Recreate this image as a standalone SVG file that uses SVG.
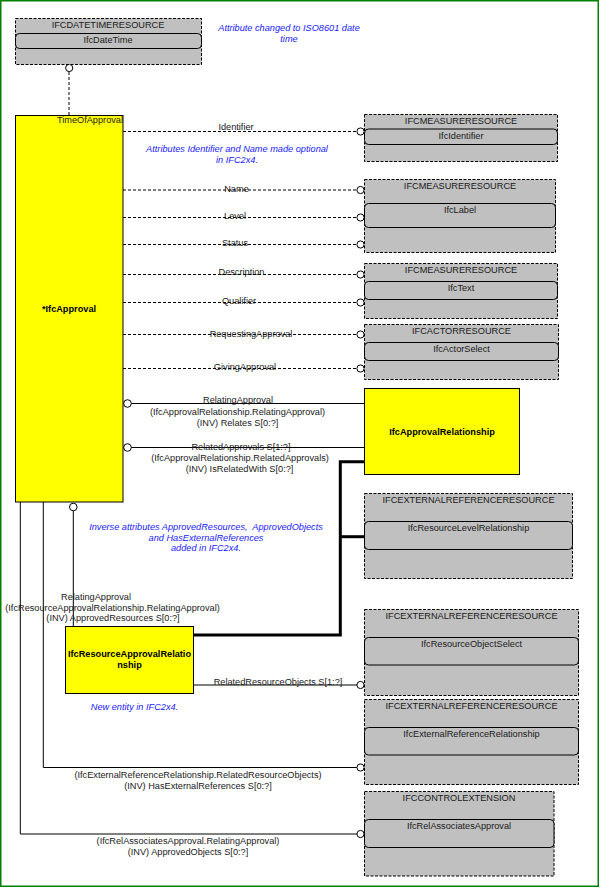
<svg xmlns="http://www.w3.org/2000/svg" width="600" height="888" viewBox="0 0 600 888">
<style>
text{font-family:"Liberation Sans",Arial,sans-serif;font-size:9.2px;fill:#1a1a1a;text-anchor:middle}
.b{font-weight:bold;fill:#000}
.n{font-style:italic;fill:#1a1aff}
.box{fill:#c0c0c0;stroke:#000;stroke-width:1;stroke-dasharray:3,1.5}
.in{fill:#c0c0c0;stroke:#000;stroke-width:1}
.ent{fill:#ffff00;stroke:#000;stroke-width:1}
.dl{fill:none;stroke:#000;stroke-width:1;stroke-dasharray:3,2}
.sl{fill:none;stroke:#000;stroke-width:1}
.tk{fill:none;stroke:#000;stroke-width:3}
.c{fill:#fff;stroke:#000;stroke-width:1}
</style>
<rect x="0.75" y="0.75" width="597.5" height="885.5" fill="#fff" stroke="#008000" stroke-width="1.5"/>

<g id="connectors">
  <line class="dl" x1="69" y1="72" x2="69" y2="115"/>
  <line class="dl" x1="123" y1="131.5" x2="357" y2="131.5"/>
  <line class="dl" x1="123" y1="190" x2="357" y2="190"/>
  <line class="dl" x1="123" y1="217.5" x2="357" y2="217.5"/>
  <line class="dl" x1="123" y1="244.5" x2="357" y2="244.5"/>
  <line class="dl" x1="123" y1="274.5" x2="357" y2="274.5"/>
  <line class="dl" x1="123" y1="302.5" x2="357" y2="302.5"/>
  <line class="dl" x1="123" y1="334.5" x2="357" y2="334.5"/>
  <line class="dl" x1="123" y1="368.5" x2="357" y2="368.5"/>
  <line class="sl" x1="131" y1="403.5" x2="364" y2="403.5"/>
  <line class="sl" x1="131" y1="447.5" x2="364" y2="447.5"/>
  <path class="tk" d="M364,461.7 H340.3 V635 H193.6"/>
  <path class="tk" d="M340.3,536.7 H364"/>
  <line class="sl" x1="73.3" y1="511" x2="73.3" y2="626"/>
  <line class="sl" x1="193.6" y1="685" x2="357" y2="685"/>
  <path class="sl" d="M43.3,502 V767.5 H357"/>
  <path class="sl" d="M20.3,502 V834 H357"/>
  <circle class="c" cx="69.2" cy="68" r="3.6"/>
  <circle class="c" cx="360.5" cy="131.5" r="3.6"/>
  <circle class="c" cx="360.5" cy="190" r="3.6"/>
  <circle class="c" cx="360.5" cy="217.5" r="3.6"/>
  <circle class="c" cx="360.5" cy="244.5" r="3.6"/>
  <circle class="c" cx="360.5" cy="274.5" r="3.6"/>
  <circle class="c" cx="360.5" cy="302.5" r="3.6"/>
  <circle class="c" cx="360.5" cy="334.5" r="3.6"/>
  <circle class="c" cx="360.5" cy="368.5" r="3.6"/>
  <circle class="c" cx="127.5" cy="403.5" r="3.8"/>
  <circle class="c" cx="127.5" cy="447.5" r="3.8"/>
  <circle class="c" cx="73.3" cy="507" r="3.8"/>
  <circle class="c" cx="360.5" cy="685" r="3.6"/>
  <circle class="c" cx="360.5" cy="767.5" r="3.6"/>
  <circle class="c" cx="360.5" cy="834" r="3.6"/>

  <text x="236" y="130">Identifier</text>
  <text x="236.5" y="192">Name</text>
  <text x="235" y="219">Level</text>
  <text x="235" y="246">Status</text>
  <text x="241.5" y="275">Description</text>
  <text x="239" y="304">Qualifier</text>
  <text x="251" y="337">RequestingApproval</text>
  <text x="245" y="370">GivingApproval</text>
  <text x="238" y="403">RelatingApproval</text>
  <text x="237.5" y="415">(IfcApprovalRelationship.RelatingApproval)</text>
  <text x="237.5" y="426">(INV) Relates S[0:?]</text>
  <text x="241" y="450">RelatedApprovals S[1:?]</text>
  <text x="240" y="461">(IfcApprovalRelationship.RelatedApprovals)</text>
  <text x="239.5" y="472">(INV) IsRelatedWith S[0:?]</text>
  <text x="96" y="600">RelatingApproval</text>
  <text x="112.5" y="610.5">(IfcResourceApprovalRelationship.RelatingApproval)</text>
  <text x="113" y="620.5">(INV) ApprovedResources S[0:?]</text>
  <text x="278" y="685">RelatedResourceObjects S[1:?]</text>
  <text x="198" y="778">(IfcExternalReferenceRelationship.RelatedResourceObjects)</text>
  <text x="198" y="789">(INV) HasExternalReferences S[0:?]</text>
  <text x="188" y="844">(IfcRelAssociatesApproval.RelatingApproval)</text>
  <text x="188" y="855">(INV) ApprovedObjects S[0:?]</text>
</g>

<g id="IfcDateTimeResource">
  <rect class="box" x="15.5" y="18.5" width="186" height="46"/>
  <rect class="in" x="15.5" y="33.5" width="186" height="15" rx="4"/>
  <text x="108" y="28">IFCDATETIMERESOURCE</text>
  <text x="108" y="43">IfcDateTime</text>
</g>

<g id="IfcApproval">
  <rect class="ent" x="15.5" y="115.5" width="107.5" height="386.5"/>
  <text x="90" y="123">TimeOfApproval</text>
  <text class="b" x="69" y="312">*IfcApproval</text>
</g>

<g id="MeasureIdentifier">
  <rect class="box" x="364.5" y="114.5" width="193" height="47"/>
  <rect class="in" x="364.5" y="129" width="193" height="15.5" rx="4"/>
  <text x="461" y="124">IFCMEASURERESOURCE</text>
  <text x="461" y="139">IfcIdentifier</text>
</g>

<g id="MeasureLabel">
  <rect class="box" x="364.5" y="179.5" width="191" height="73"/>
  <rect class="in" x="364.5" y="203.5" width="191" height="24" rx="4"/>
  <text x="460" y="189">IFCMEASURERESOURCE</text>
  <text x="460" y="213">IfcLabel</text>
</g>

<g id="MeasureText">
  <rect class="box" x="364.5" y="263.5" width="193" height="55"/>
  <rect class="in" x="364.5" y="281.5" width="193" height="18" rx="4"/>
  <text x="461" y="273">IFCMEASURERESOURCE</text>
  <text x="461" y="291">IfcText</text>
</g>

<g id="ActorResource">
  <rect class="box" x="364.5" y="324.5" width="194" height="55"/>
  <rect class="in" x="364.5" y="342.5" width="194" height="18" rx="4"/>
  <text x="461.5" y="334">IFCACTORRESOURCE</text>
  <text x="461.5" y="352">IfcActorSelect</text>
</g>

<g id="IfcApprovalRelationship">
  <rect class="ent" x="364.5" y="388.5" width="155" height="86"/>
  <text class="b" x="442" y="435">IfcApprovalRelationship</text>
</g>

<g id="ResourceLevelRelationship">
  <rect class="box" x="364.5" y="493.5" width="208" height="85"/>
  <rect class="in" x="364.5" y="521.5" width="208" height="28" rx="4"/>
  <text x="468.5" y="503">IFCEXTERNALREFERENCERESOURCE</text>
  <text x="468.5" y="531">IfcResourceLevelRelationship</text>
</g>

<g id="IfcResourceApprovalRelationship">
  <rect class="ent" x="65.5" y="626.5" width="128" height="67"/>
  <text class="b" x="129.5" y="657">IfcResourceApprovalRelatio</text>
  <text class="b" x="129.5" y="668">nship</text>
</g>

<g id="ResourceObjectSelect">
  <rect class="box" x="364.5" y="609.5" width="214" height="86"/>
  <rect class="in" x="364.5" y="637.5" width="214" height="27.5" rx="4"/>
  <text x="471.5" y="619">IFCEXTERNALREFERENCERESOURCE</text>
  <text x="471.5" y="647">IfcResourceObjectSelect</text>
</g>

<g id="ExternalReferenceRelationship">
  <rect class="box" x="364.5" y="699.5" width="214" height="85"/>
  <rect class="in" x="364.5" y="727.5" width="214" height="27.5" rx="4"/>
  <text x="471.5" y="709">IFCEXTERNALREFERENCERESOURCE</text>
  <text x="471.5" y="737">IfcExternalReferenceRelationship</text>
</g>

<g id="RelAssociatesApproval">
  <rect class="box" x="364.5" y="791.5" width="189.5" height="84.5"/>
  <rect class="in" x="364.5" y="819.5" width="189.5" height="28" rx="4"/>
  <text x="459" y="801">IFCCONTROLEXTENSION</text>
  <text x="459" y="829">IfcRelAssociatesApproval</text>
</g>

<g id="notes">
  <text class="n" x="289" y="31">Attribute changed to ISO8601 date</text>
  <text class="n" x="289" y="42">time</text>
  <text class="n" x="237" y="152">Attributes Identifier and Name made optional</text>
  <text class="n" x="237" y="163">in IFC2x4.</text>
  <text class="n" x="206" y="530">Inverse attributes ApprovedResources,&#160; ApprovedObjects</text>
  <text class="n" x="206" y="541">and HasExternalReferences</text>
  <text class="n" x="206" y="551">added in IFC2x4.</text>
  <text class="n" x="134.5" y="710">New entity in IFC2x4.</text>
</g>
</svg>
